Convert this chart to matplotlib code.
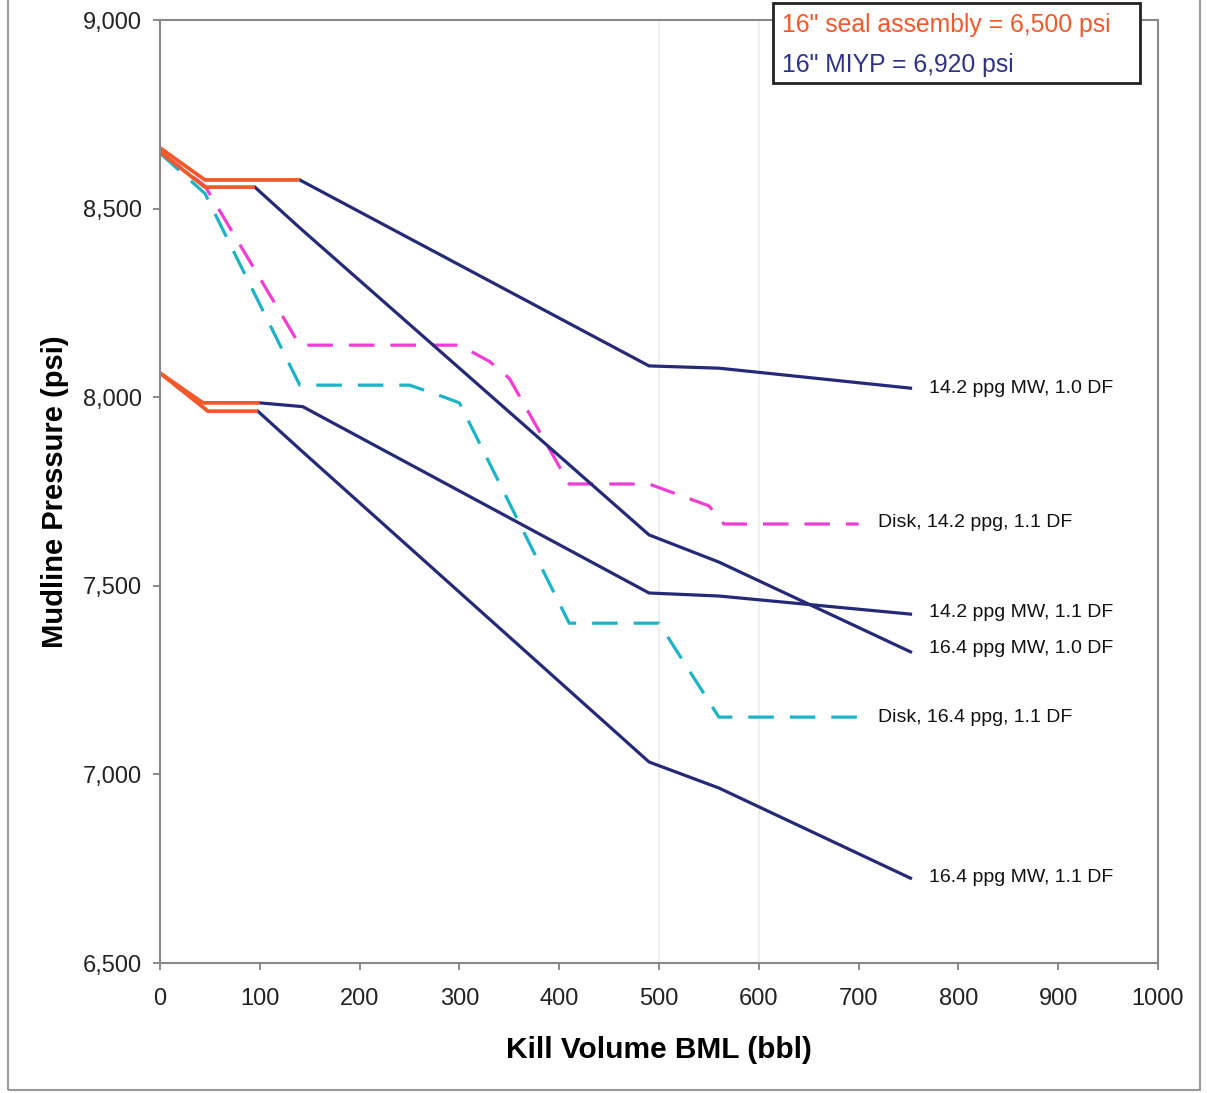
import matplotlib.pyplot as plt
from matplotlib.patches import Rectangle

plt.rcParams['font.family'] = ['Liberation Sans', 'DejaVu Sans']

# kill volume (bbl) / mudline pressure (psi)
# orange = part above the seal assembly rating, navy = rest of the curve
mw142_df10_orange_x = [0, 45, 140]
mw142_df10_orange_y = [8661, 8576, 8576]
mw142_df10_x = [140, 490, 560, 752]
mw142_df10_y = [8576, 8083, 8077, 8024]

mw164_df10_orange_x = [0, 45, 95]
mw164_df10_orange_y = [8650, 8557, 8557]
mw164_df10_x = [95, 140, 490, 560, 752]
mw164_df10_y = [8557, 8449, 7635, 7563, 7325]

mw142_df11_orange_x = [0, 43, 100]
mw142_df11_orange_y = [8064, 7985, 7985]
mw142_df11_x = [100, 143, 490, 560, 752]
mw142_df11_y = [7985, 7975, 7481, 7473, 7425]

mw164_df11_orange_x = [0, 48, 98]
mw164_df11_orange_y = [8064, 7963, 7963]
mw164_df11_x = [98, 143, 490, 560, 752]
mw164_df11_y = [7963, 7855, 7033, 6964, 6725]

disk142_x = [0, 45, 140, 300, 330, 350, 410, 490, 550, 565, 700]
disk142_y = [8650, 8560, 8138, 8138, 8095, 8050, 7770, 7770, 7712, 7664, 7664]

disk164_x = [0, 45, 140, 250, 285, 300, 410, 500, 560, 700]
disk164_y = [8647, 8540, 8032, 8032, 8000, 7985, 7401, 7401, 7152, 7152]

labels = ["14.2 ppg MW, 1.0 DF", "Disk, 14.2 ppg, 1.1 DF", "14.2 ppg MW, 1.1 DF",
          "16.4 ppg MW, 1.0 DF", "Disk, 16.4 ppg, 1.1 DF", "16.4 ppg MW, 1.1 DF"]
label_x = [771, 719, 771, 771, 719, 771]
label_y = [8024, 7667, 7428, 7335, 7152, 6728]

navy = '#252a78'
orange = '#f2592a'
magenta = '#f23cd6'
cyan = '#1cb3c9'

fig = plt.figure(figsize=(12.07, 10.93), dpi=100)
ax = fig.add_axes([0.1326, 0.1189, 0.8268, 0.8628])

# faint scan lines
for gx in [500, 600]:
    ax.axvline(gx, color='#ececec', lw=1.2, zorder=0)

lw = 2.3
ax.plot(disk142_x, disk142_y, color=magenta, lw=lw, dashes=(8, 5))
ax.plot(disk164_x, disk164_y, color=cyan, lw=lw, dashes=(8, 5))
for xs, ys in [(mw142_df10_x, mw142_df10_y), (mw164_df10_x, mw164_df10_y),
               (mw142_df11_x, mw142_df11_y), (mw164_df11_x, mw164_df11_y)]:
    ax.plot(xs, ys, color=navy, lw=lw)
for xs, ys in [(mw142_df10_orange_x, mw142_df10_orange_y), (mw164_df10_orange_x, mw164_df10_orange_y),
               (mw142_df11_orange_x, mw142_df11_orange_y), (mw164_df11_orange_x, mw164_df11_orange_y)]:
    ax.plot(xs, ys, color=orange, lw=lw + 0.4, solid_capstyle='butt')

for txt, lx, ly in zip(labels, label_x, label_y):
    ax.text(lx, ly, txt, fontsize=14, va='center', ha='left', color='#111111')

ax.set_xlim(0, 1000)
ax.set_ylim(6500, 9000)
ax.set_xticks(range(0, 1001, 100))
ax.set_yticks(range(6500, 9001, 500))
ax.set_yticklabels([f"{v:,}" for v in range(6500, 9001, 500)])
ax.tick_params(labelsize=17, length=5, width=1.2, color='#777777', labelcolor='#222222')
ax.tick_params(axis='y', pad=8)
ax.tick_params(axis='x', pad=13)
for s in ax.spines.values():
    s.set_color('#888888')
    s.set_linewidth(1.5)

ax.set_xlabel("Kill Volume BML (bbl)", fontsize=21.5, fontweight='bold', labelpad=19)
ax.set_ylabel("Mudline Pressure (psi)", fontsize=21, fontweight='bold', labelpad=10)

# note box at top right
fig.patches.append(Rectangle((0.6404, 0.9241), 0.3041, 0.0732, transform=fig.transFigure,
                             facecolor='white', edgecolor='#222222', lw=2, zorder=5))
fig.text(0.648, 0.9775, '16" seal assembly = 6,500 psi', color=orange, fontsize=17.8,
         va='center', zorder=6)
fig.text(0.648, 0.9405, '16" MIYP = 6,920 psi', color='#2e3388', fontsize=17.8,
         va='center', zorder=6)

# outer border of the scanned page
fig.patches.append(Rectangle((8 / 1207, 3 / 1093), 1192 / 1207, 1.05, transform=fig.transFigure,
                             facecolor='none', edgecolor='#999999', lw=1.5))

fig.savefig('out.png', dpi=100)
